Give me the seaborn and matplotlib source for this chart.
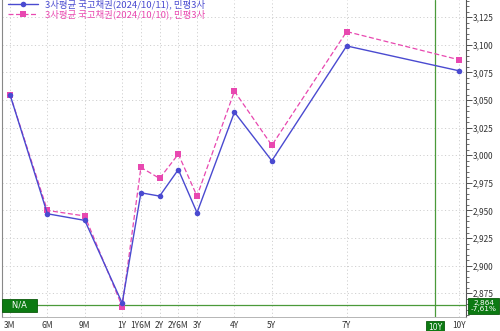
import matplotlib
matplotlib.use("Agg")
import matplotlib.pyplot as plt
import seaborn as sns
import pandas as pd
import numpy as np
from matplotlib.ticker import MultipleLocator, FuncFormatter

sns.set_style("white")
plt.rcParams['font.family'] = ['Noto Sans CJK KR', 'DejaVu Sans']

tenors = ["3M", "6M", "9M", "1Y", "1Y6M", "2Y", "2Y6M", "3Y", "4Y", "5Y", "7Y", "10Y"]
tenor_pos = [1, 2, 3, 4, 4.5, 5, 5.5, 6, 7, 8, 10, 13]
series1_label = "3사평균 국고채권(2024/10/11), 민평3사"
series2_label = "3사평균 국고채권(2024/10/10), 민평3사"
series1 = [3.055, 2.947, 2.941, 2.866, 2.966, 2.963, 2.987, 2.948, 3.039, 2.995, 3.099, 3.0765]
series2 = [3.055, 2.950, 2.945, 2.863, 2.989, 2.979, 3.001, 2.963, 3.058, 3.009, 3.112, 3.0865]
cursor_value = 2.864
cursor_change = "-7.61%"
cursor_pos = 12.36
cursor_tenor = "10Y"

df1 = pd.DataFrame({"pos": tenor_pos, "yield": series1})
df2 = pd.DataFrame({"pos": tenor_pos, "yield": series2})

fig = plt.figure(figsize=(5.0, 3.31), dpi=100)
ax = fig.add_axes([0.004, 1 - 317/331, 0.928, 317/331])

blue = "#4a4ad0"
pink = "#e848b0"
sns.lineplot(data=df2, x="pos", y="yield", ax=ax, color=pink, linestyle=(0, (4, 2)),
             linewidth=0.9, marker="s", markersize=4, markeredgewidth=0, label=series2_label)
sns.lineplot(data=df1, x="pos", y="yield", ax=ax, color=blue, linewidth=1.0,
             marker="o", markersize=4, markeredgewidth=0, label=series1_label)

ax.set_xlim(0.787, 13.19)
ax.set_ylim(2.8535, 3.1406)

ax.set_xticks(tenor_pos)
ax.set_xticklabels(tenors)
ax.yaxis.tick_right()
ax.yaxis.set_major_locator(MultipleLocator(0.025))
ax.yaxis.set_minor_locator(MultipleLocator(0.005))
ax.yaxis.set_major_formatter(FuncFormatter(lambda v, p: f"{v:.3f}".replace(".", ",")))
ax.tick_params(axis='y', which='major', length=4, width=0.6, labelsize=6, pad=1, colors="#333333", direction='out')
ax.tick_params(axis='y', which='minor', length=2, width=0.5, colors="#333333", right=True)
ax.tick_params(axis='x', length=0, labelsize=6, pad=3, colors="#333333")
ax.set_xlabel("")
ax.set_ylabel("")

ax.grid(True, which='major', color="#d0d0d0", linestyle=(0, (1.2, 2.5)), linewidth=0.7)
ax.spines["top"].set_visible(False)
ax.spines["right"].set_color("#555555")
ax.spines["right"].set_linewidth(0.8)
ax.spines["left"].set_color("#888888")
ax.spines["bottom"].set_color("#aaaaaa")
ax.spines["bottom"].set_linewidth(0.6)

# crosshair
green = "#4a9a3a"
ax.axhline(cursor_value, color=green, linewidth=0.9, zorder=1)
ax.axvline(cursor_pos, color=green, linewidth=0.9, zorder=1)

box = dict(boxstyle="square,pad=0.25", fc="#0c7a12", ec="#0c5a0c", lw=0.6)
ax.text(0.004, cursor_value, "   N/A   ", transform=ax.get_yaxis_transform(), ha="left", va="center",
        fontsize=6, color="white", bbox=box, family="DejaVu Sans")
ax.text(1.038, cursor_value - 0.0005, f"{cursor_value:.3f}".replace(".", ",") + "\n" + cursor_change.replace(".", ","),
        transform=ax.get_yaxis_transform(), ha="center", va="center", fontsize=5.3, color="white",
        linespacing=0.9, bbox=dict(boxstyle="square,pad=0.3", fc="#0c7a12", ec="#0c5a0c", lw=0.6),
        family="DejaVu Sans", clip_on=False)
ax.text(cursor_pos, -0.032, cursor_tenor, transform=ax.get_xaxis_transform(), ha="center", va="center",
        fontsize=5.5, color="white", bbox=dict(boxstyle="square,pad=0.2", fc="#0c7a12", ec="#0c5a0c", lw=0.6),
        clip_on=False, family="DejaVu Sans")

handles, labels = ax.get_legend_handles_labels()
leg = ax.legend(handles[::-1], labels[::-1], loc="upper left", bbox_to_anchor=(0.0, 1.02),
                frameon=False, fontsize=6.8, handlelength=3.2, handletextpad=0.8,
                labelspacing=0.0, borderaxespad=0.2)
for t, c in zip(leg.get_texts(), [blue, pink]):
    t.set_color(c)

fig.savefig("out.png", dpi=100)
